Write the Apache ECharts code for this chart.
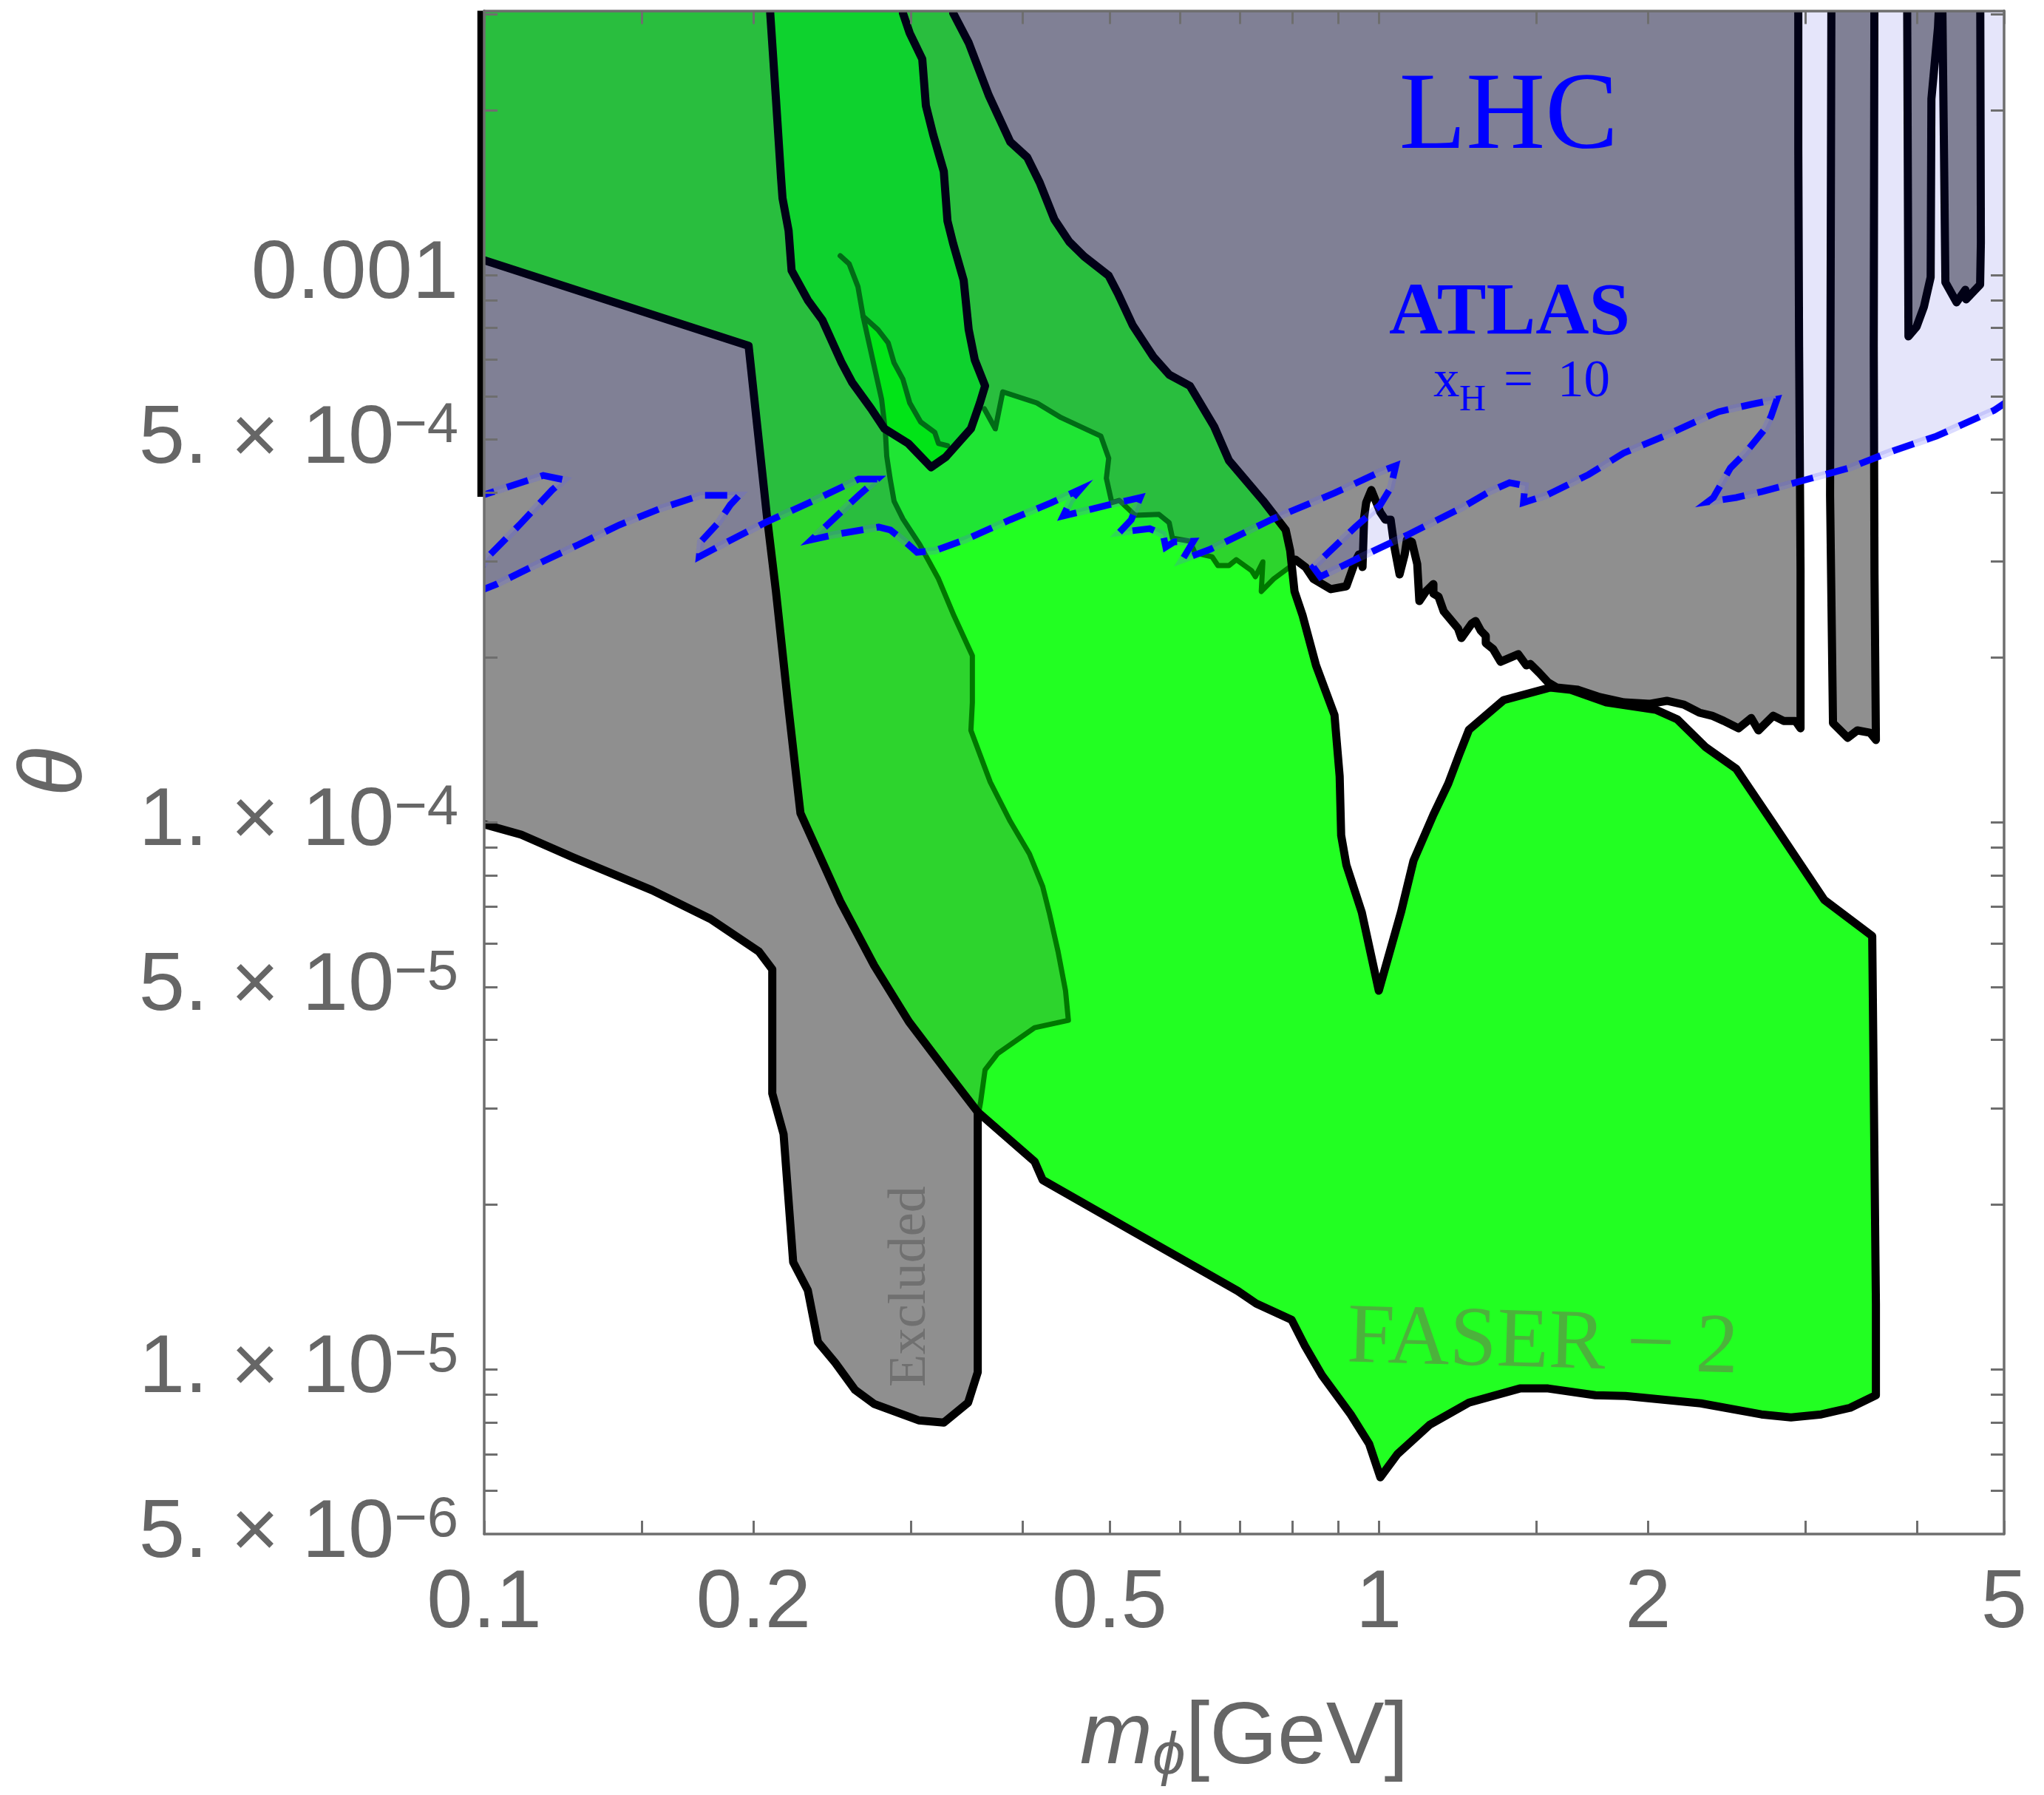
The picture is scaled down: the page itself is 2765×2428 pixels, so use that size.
<!DOCTYPE html>
<html><head><meta charset="utf-8">
<script src="https://cdn.jsdelivr.net/npm/echarts@6/dist/echarts.min.js"></script>
<style>html,body{margin:0;padding:0;background:#fff}#c{width:2765px;height:2428px}</style>
</head><body><div id="c"></div>
<script>
// ---- axis ranges & ticks ----
const X_MIN = 0.1, X_MAX = 5, Y_MIN = 5e-6, Y_MAX = 3.04e-3;
const xLabelValues = [0.1, 0.2, 0.5, 1, 2, 5];
const xTickValues = [0.1, 0.15, 0.2, 0.3, 0.4, 0.5, 0.6, 0.7, 0.8, 0.9, 1, 1.5, 2, 3, 4, 5];
const yLabelValues = [5e-6, 1e-5, 5e-5, 1e-4, 5e-4, 1e-3];
const yTickValues = [6e-6, 7e-6, 8e-6, 9e-6, 1e-5, 2e-5, 3e-5, 4e-5, 5e-5, 6e-5, 7e-5, 8e-5, 9e-5,
  1e-4, 2e-4, 3e-4, 4e-4, 5e-4, 6e-4, 7e-4, 8e-4, 9e-4, 1e-3, 2e-3, 3e-3];

// ---- region boundaries, [m_phi (GeV), theta] ----
const TOPV = 4e-3;
// gray (excluded) region: right edge + jagged lower edge of the upper gray block
const grayHoleEdge = [[2.944,TOPV],[2.944,1.702e-3],[2.950,7.393e-4],[2.961,2.899e-4],[2.961,1.484e-4],
 [2.922,1.531e-4],[2.835,1.531e-4],[2.760,1.565e-4],[2.657,1.471e-4],[2.608,1.550e-4],[2.524,1.484e-4],[2.430,1.531e-4],[2.357,1.565e-4],[2.282,1.585e-4],
 [2.193,1.640e-4],[2.099,1.666e-4],[2.006,1.645e-4],[1.880,1.655e-4],[1.766,1.692e-4],[1.671,1.745e-4],[1.581,1.762e-4],[1.546,1.801e-4],[1.511,1.875e-4],
 [1.477,1.946e-4],[1.462,1.934e-4],[1.432,2.027e-4],[1.368,1.964e-4],[1.342,2.072e-4],[1.317,2.123e-4],[1.317,2.190e-4],[1.300,2.239e-4],[1.283,2.331e-4],
 [1.271,2.309e-4],[1.237,2.170e-4],[1.226,2.260e-4],[1.182,2.427e-4],[1.166,2.584e-4],[1.151,2.616e-4],[1.151,2.723e-4],[1.129,2.640e-4],[1.110,2.535e-4],
 [1.104,2.962e-4],[1.089,3.252e-4],[1.075,3.282e-4],[1.069,3.085e-4],[1.055,2.836e-4],[1.041,3.182e-4],[1.031,3.570e-4],[1.017,3.570e-4],[1.004,3.683e-4],
 [0.981,4.045e-4],[0.968,3.836e-4],[0.963,3.604e-4],[0.959,2.925e-4],[0.950,3.085e-4],[0.941,2.990e-4],[0.920,2.698e-4],[0.884,2.665e-4],[0.845,2.783e-4],
 [0.828,2.925e-4],[0.807,3.018e-4]];
// gray edge seen through the green band (jagged)
const grayJagged = [[0.795,2.925e-4],[0.763,2.783e-4],[0.739,2.640e-4],[0.742,2.990e-4],[0.728,2.809e-4],[0.721,2.880e-4],[0.693,3.018e-4],[0.680,2.944e-4],
 [0.661,2.944e-4],[0.651,3.055e-4],[0.623,3.104e-4],[0.615,3.262e-4],[0.588,3.303e-4],[0.583,3.526e-4],[0.568,3.650e-4],[0.534,3.638e-4],[0.513,3.871e-4],
 [0.503,3.836e-4],[0.496,4.250e-4],[0.499,4.623e-4],[0.489,5.075e-4],[0.4415,5.485e-4],[0.4147,5.836e-4],[0.3799,6.115e-4],[0.3727,5.235e-4],[0.3623,5.693e-4]];
// gray edge seen through the green band (left branch)
const grayBranch = [[0.3344,5.075e-4],[0.3041,5.075e-4],[0.2808,5.187e-4],[0.2818,4.666e-4],[0.2845,4.210e-4],[0.2872,3.859e-4],[0.2938,3.582e-4],
 [0.3069,3.212e-4],[0.3220,2.783e-4],[0.3351,2.382e-4],[0.3513,2.014e-4],[0.3513,1.655e-4],[0.3500,1.471e-4],[0.3679,1.183e-4],[0.3873,1.003e-4],
 [0.4069,8.748e-5],[0.4210,7.627e-5],[0.4281,6.841e-5],[0.4380,5.800e-5],[0.4465,4.920e-5],[0.4498,4.344e-5],[0.4123,4.210e-5],[0.3749,3.776e-5],
 [0.3630,3.526e-5],[0.3589,3.085e-5],[0.3562,2.880e-5]];
// "Excluded" tongue and lower-left edge of the gray region
const grayTongue = [[0.3562,9.877e-6],[0.3475,8.694e-6],[0.3264,7.992e-6],[0.3059,8.068e-6],[0.2729,8.640e-6],[0.2598,9.167e-6],[0.2468,1.028e-5],
 [0.2361,1.122e-5],[0.2300,1.395e-5],[0.2215,1.570e-5],[0.2161,2.690e-5],[0.2099,3.193e-5],[0.2099,5.384e-5],[0.2028,5.800e-5],[0.1790,6.653e-5],
 [0.1540,7.510e-5],[0.1259,8.612e-5],[0.1100,9.484e-5],[0.0994,9.938e-5],[0.098,1.0e-4]];
// gray strips at the right
const grayStrip = [[3.207,TOPV],[3.195,3.956e-4],[3.219,1.517e-4],[3.344,1.426e-4],[3.428,1.471e-4],[3.541,1.457e-4],[3.595,1.413e-4],
 [3.582,2.836e-4],[3.575,7.393e-4],[3.582,TOPV]];
const grayFingers = [[3.894,TOPV],[3.909,7.722e-4],[3.992,8.042e-4],[4.068,8.748e-4],[4.139,9.906e-4],[4.147,2.097e-3],[4.218,2.834e-3],[4.258,TOPV],
 [4.282,1.773e-3],[4.299,9.694e-4],[4.424,8.913e-4],[4.526,9.397e-4],[4.534,9.024e-4],[4.701,9.603e-4],[4.710,1.147e-3],[4.701,TOPV]];

// FASER-2 reach (green band) outline
const faserRightUpper = [[0.3344,TOPV],[0.3344,3.009e-3],[0.3480,2.656e-3],[0.3664,2.130e-3],[0.3873,1.751e-3],[0.4046,1.640e-3],[0.4178,1.475e-3],
 [0.4339,1.263e-3],[0.4508,1.150e-3],[0.4684,1.081e-3],[0.4990,9.968e-4],[0.5109,9.252e-4],[0.5308,8.092e-4],[0.5600,7.079e-4],[0.5832,6.571e-4],
 [0.6150,6.269e-4],[0.6546,5.284e-4],[0.6800,4.580e-4],[0.7421,3.871e-4],[0.7870,3.418e-4]];
const faserRightLower = [[0.7961,3.133e-4],[0.8050,2.640e-4],[0.8222,2.382e-4],[0.8508,1.934e-4],[0.8922,1.570e-4],[0.9042,1.213e-4],[0.9077,9.456e-5],
 [0.9200,8.348e-5],[0.9572,6.841e-5],[1.000,4.920e-5]];
const faserLobe = [[1.0587,6.841e-5],[1.0935,8.505e-5],[1.151,1.032e-4],[1.1958,1.176e-4],[1.2304,1.331e-4],[1.2612,1.475e-4],[1.379,1.671e-4],
 [1.555,1.762e-4],[1.639,1.745e-4],[1.796,1.655e-4],[2.040,1.605e-4],[2.156,1.541e-4],[2.317,1.373e-4],[2.510,1.251e-4],[2.750,1.003e-4],[3.147,7.213e-5],
 [3.561,6.192e-5],[3.595,1.319e-5],[3.595,8.966e-6],[3.364,8.505e-6],[3.123,8.271e-6],[2.889,8.169e-6],[2.677,8.271e-6],[2.291,8.666e-6],[1.887,8.940e-6],
 [1.746,8.966e-6],[1.546,9.225e-6],[1.438,9.225e-6],[1.2612,8.694e-6],[1.140,7.917e-6],[1.0487,6.993e-6],[1.004,6.349e-6]];
const faserLowerV = [[0.9756,7.304e-6],[0.9303,8.271e-6],[0.8639,9.754e-6],[0.8268,1.104e-5],[0.7990,1.232e-5],[0.7294,1.319e-5],[0.6954,1.391e-5],
 [0.5319,1.784e-5],[0.4210,2.218e-5],[0.4123,2.398e-5],[0.3562,2.953e-5]];
const faserLowerLeft = [[0.3301,3.471e-5],[0.2984,4.317e-5],[0.2729,5.467e-5],[0.2500,7.168e-5],[0.2257,1.038e-4],[0.2185,1.655e-4],[0.2119,2.640e-4],
 [0.2071,3.604e-4],[0.1975,7.42e-4],[0.0994,1.067e-3],[0.098,1.08e-3]];
// inner finger
const innerShape = [[0.2088,TOPV],[0.2088,3.009e-3],[0.2119,2.097e-3],[0.2147,1.503e-3],[0.2155,1.382e-3],[0.2189,1.205e-3],[0.2206,1.019e-3],
 [0.2300,8.995e-4],[0.2388,8.271e-4],[0.2510,6.906e-4],[0.2577,6.369e-4],[0.2708,5.693e-4],[0.2802,5.235e-4],[0.2979,4.920e-4],[0.3159,4.452e-4],
 [0.3282,4.652e-4],[0.3500,5.235e-4],[0.3582,5.836e-4],[0.3630,6.269e-4],[0.3535,6.993e-4],[0.3480,7.943e-4],[0.3435,9.784e-4],[0.3344,1.140e-3],
 [0.3295,1.255e-3],[0.3264,1.546e-3],[0.3177,1.801e-3],[0.3117,2.039e-3],[0.3088,2.481e-3],[0.2990,2.766e-3],[0.2938,3.009e-3],[0.2938,TOPV]];
const stripTop = [[0.2500,1.084e-3],[0.2558,1.048e-3],[0.2617,9.515e-4],[0.2652,8.400e-4]];
const stripRight = [[0.2652,8.400e-4],[0.2755,7.943e-4],[0.2829,7.510e-4],[0.2872,6.906e-4],[0.2938,6.449e-4],[0.2990,5.836e-4],[0.3076,5.384e-4],
 [0.3189,5.155e-4],[0.3220,4.920e-4],[0.3295,4.873e-4]];
const stripLeft = [[0.2652,8.400e-4],[0.2688,7.603e-4],[0.2734,6.714e-4],[0.2781,5.929e-4],[0.2808,5.187e-4]];

// ATLAS x_H = 10 boundary (dashed)
const atlasCurve = [[0.0972,3.907e-4],[0.1164,4.302e-4],[0.1228,4.223e-4],[0.1191,4.045e-4],[0.1095,3.493e-4],[0.1010,3.055e-4],[0.0972,2.766e-4],
 [0.0972,2.616e-4],[0.1033,2.723e-4],[0.1147,2.962e-4],[0.1273,3.212e-4],[0.1416,3.493e-4],[0.1573,3.741e-4],[0.1746,3.956e-4],[0.1856,3.956e-4],
 [0.1928,3.956e-4],[0.1884,3.800e-4],[0.1827,3.526e-4],[0.1746,3.252e-4],[0.1739,3.055e-4],[0.1869,3.252e-4],[0.2060,3.526e-4],[0.2309,3.836e-4],
 [0.2622,4.236e-4],[0.2750,4.236e-4],[0.2622,3.956e-4],[0.2322,3.282e-4],[0.2468,3.355e-4],[0.2760,3.461e-4],[0.2845,3.418e-4],[0.2956,3.252e-4],
 [0.3047,3.113e-4],[0.3189,3.133e-4],[0.3448,3.282e-4],[0.3873,3.570e-4],[0.4307,3.836e-4],[0.4638,4.057e-4],[0.4524,3.871e-4],[0.4438,3.626e-4],
 [0.503,3.812e-4],[0.5411,3.919e-4],[0.5288,3.570e-4],[0.513,3.386e-4],[0.5546,3.439e-4],[0.5740,3.355e-4],[0.5779,3.182e-4],[0.5905,3.252e-4],
 [0.6206,3.262e-4],[0.6032,3.018e-4],[0.6480,3.152e-4],[0.7577,3.570e-4],[0.8922,3.994e-4],[1.004,4.370e-4],[1.0447,4.481e-4],[1.031,4.082e-4],
 [1.004,3.800e-4],[0.941,3.461e-4],[0.845,2.925e-4],[0.8604,2.809e-4],[0.968,3.085e-4],[1.079,3.355e-4],[1.237,3.752e-4],[1.330,4.019e-4],
 [1.400,4.172e-4],[1.457,4.120e-4],[1.451,3.836e-4],[1.539,3.956e-4],[1.716,4.317e-4],[1.877,4.724e-4],[2.084,5.075e-4],[2.313,5.485e-4],
 [2.398,5.623e-4],[2.608,5.800e-4],[2.787,5.929e-4],[2.745,5.519e-4],[2.703,5.235e-4],[2.568,4.724e-4],[2.472,4.439e-4],[2.366,3.919e-4],
 [2.331,3.847e-4],[2.510,3.919e-4],[2.683,4.019e-4],[2.979,4.210e-4],[3.357,4.439e-4],[3.756,4.769e-4],[4.202,5.075e-4],[4.874,5.658e-4],
 [5.044,5.874e-4],[5.269,6.115e-4]];
const leftEdgeBlack = [[0.0991,Y_MAX],[0.0991,3.93e-4]];

// text anchors [m, theta]
const labels = {
  lhc: [1.397, 1.928e-3], atlas: [1.40, 8.48e-4],
  xh_x: [1.151, 6.37e-4], xh_H: [1.230, 5.89e-4], xh_eq: [1.379, 6.37e-4], xh_10: [1.584, 6.37e-4],
  faser: [1.525, 1.11e-5], excluded: [0.300, 1.417e-5]
};

// ---- colours ----
const C_GRAY = '#8f8f8f', C_MED = '#2dd42d', C_BRIGHT = '#22ff22', C_INNER = '#0fea1b', C_STRIP = '#00fe02',
      C_DG = '#007800', C_BLACK = '#000000', C_ATLAS = 'rgba(10,10,207,0.106)';

const rev = a => a.slice().reverse();
const polyGray = [[0.098,TOPV], ...grayHoleEdge, ...grayJagged, ...grayBranch, ...grayTongue];
const polyFaser = [[0.098,TOPV], ...faserRightUpper, ...faserRightLower, ...faserLobe, ...faserLowerV, ...faserLowerLeft];
const polyBright = [...grayBranch, ...rev(faserLowerV), ...rev(faserLobe), ...rev(faserRightLower), ...grayJagged];
const polyStrip = [...stripRight, [0.3282,4.652e-4],[0.3159,4.452e-4],[0.2979,4.920e-4], ...rev(stripLeft)];
const polyAtlas = [...atlasCurve, [5.5,TOPV],[0.095,TOPV]];
const lineFaser = [...faserRightUpper, ...faserRightLower, ...faserLobe, ...faserLowerV, ...faserLowerLeft];
const lineGrayLow = [[0.3562,2.953e-5],[0.3562,2.880e-5], ...grayTongue];
const lineDG1 = [...stripTop, ...stripRight.slice(1)];
const lineDG2 = [...stripLeft, ...grayBranch.slice(3)];

const SERIF = "'Liberation Serif','Times New Roman',serif";
const SANS = "'Liberation Sans',Arial,'DejaVu Sans',sans-serif";

function mainRender(params, api) {
  const P = arr => arr.map(p => api.coord(p));
  const poly = (pts, fill) => ({type:'polygon', silent:true, shape:{points:P(pts)}, style:{fill:fill, stroke:null}});
  const line = (pts, color, w, closed) => ({type: closed ? 'polygon' : 'polyline', silent:true, shape:{points:P(pts)},
      style:{fill:null, stroke:color, lineWidth:w, lineJoin:'round', lineCap:'round'}});
  const ch = [
    poly(polyGray, C_GRAY),
    poly(polyFaser, C_MED),
    poly(polyBright, C_BRIGHT),
    poly(innerShape, C_INNER),
    poly(polyStrip, C_STRIP),
    poly(grayStrip, C_GRAY),
    poly(grayFingers, C_GRAY),
    line(lineDG1, C_DG, 7), line(lineDG2, C_DG, 7), line(grayJagged, C_DG, 7),
    line(lineFaser, C_BLACK, 11), line(innerShape, C_BLACK, 11), line(lineGrayLow, C_BLACK, 11),
    line(grayHoleEdge, C_BLACK, 11), line(grayStrip, C_BLACK, 11, true), line(grayFingers, C_BLACK, 11, true),
    {type:'polygon', silent:true, shape:{points:P(polyAtlas)}, style:{fill:C_ATLAS, stroke:'rgba(90,90,255,0.22)', lineWidth:10}},
    {type:'polyline', silent:true, shape:{points:P(atlasCurve)}, style:{fill:null, stroke:'#0000ff', lineWidth:9, lineDash:[30,18], lineCap:'butt', lineJoin:'miter'}}
  ];
  return {type:'group', children: ch};
}

function textRender(params, api) {
  const c = p => api.coord(p);
  const t = (p, text, o) => { const q = c(p); return {type:'text', silent:true, x:q[0], y:q[1], rotation:o.rot||0,
      style:Object.assign({text:text, align:'center', verticalAlign:'middle'}, o.style)}; };
  const e = c(leftEdgeBlack[0]), f = c(leftEdgeBlack[1]);
  return {type:'group', children:[
    {type:'line', silent:true, shape:{x1:e[0], y1:e[1], x2:f[0], y2:f[1]}, style:{stroke:C_BLACK, lineWidth:9}},
    t(labels.lhc, 'LHC', {style:{fill:'#0000ff', fontSize:148, fontFamily:SERIF}}),
    t(labels.atlas, 'ATLAS', {style:{fill:'#0000ff', fontSize:100, fontWeight:'bold', fontFamily:SERIF}}),
    t(labels.xh_x, 'x', {style:{fill:'#0000ff', fontSize:71, fontFamily:SERIF, align:'left'}}),
    t(labels.xh_H, 'H', {style:{fill:'#0000ff', fontSize:50, fontFamily:SERIF, align:'left'}}),
    t(labels.xh_eq, '=', {style:{fill:'#0000ff', fontSize:71, fontFamily:SERIF, align:'left'}}),
    t(labels.xh_10, '10', {style:{fill:'#0000ff', fontSize:71, fontFamily:SERIF, align:'left'}}),
    t(labels.faser, 'FASER − 2', {rot:-0.028, style:{fill:'#4cb23c', fontSize:115, fontFamily:SERIF}}),
    t(labels.excluded, 'Excluded', {rot:Math.PI/2, style:{fill:'#707070', fontSize:72, fontFamily:SERIF}})
  ]};
}

function fmtY(v) {
  const e = Math.floor(Math.log10(v) + 1e-6);
  const mt = Math.round(v / Math.pow(10, e));
  if (e === -3 && mt === 1) return '0.001';
  return '{a|' + mt + '. × 10}{s|−' + (-e) + '}';
}
const AX_COLOR = '#6e6e6e', LBL_COLOR = '#666666';
const tickStyle = {show:true, inside:true, length:18, lineStyle:{color:AX_COLOR, width:3}};
const lineStyle = {show:true, lineStyle:{color:AX_COLOR, width:3.5}};

const chart = echarts.init(document.getElementById('c'), null, {renderer:'canvas'});
chart.setOption({
  animation:false,
  backgroundColor:'#ffffff',
  grid:{left:655, right:54, top:14.5, bottom:353, containLabel:false},
  xAxis:[
    {type:'log', min:X_MIN, max:X_MAX, position:'bottom', z:10, axisLine:lineStyle,
     axisTick:Object.assign({customValues:xTickValues}, tickStyle), splitLine:{show:false}, minorTick:{show:false},
     axisLabel:{customValues:xLabelValues, showMinLabel:true, showMaxLabel:true, margin:39, color:LBL_COLOR, fontSize:112, fontFamily:SANS,
       formatter:v => String(+(+v).toPrecision(3))},
     name:'{m|m}{p|ϕ}{g|[GeV]}', nameLocation:'middle', nameGap:212,
     nameTextStyle:{color:LBL_COLOR, rich:{
       m:{fontSize:118, fontStyle:'italic', fontFamily:SANS, color:LBL_COLOR, lineHeight:130},
       p:{fontSize:80, fontStyle:'italic', fontFamily:SANS, color:LBL_COLOR, lineHeight:50, verticalAlign:'bottom'},
       g:{fontSize:118, fontFamily:SANS, color:LBL_COLOR, lineHeight:130}}}},
    {type:'log', min:X_MIN, max:X_MAX, position:'top', z:10, axisLine:lineStyle,
     axisTick:Object.assign({customValues:xTickValues}, tickStyle), axisLabel:{show:false}, splitLine:{show:false}}
  ],
  yAxis:[
    {type:'log', min:Y_MIN, max:Y_MAX, position:'left', z:10, axisLine:lineStyle,
     axisTick:Object.assign({customValues:yTickValues}, tickStyle), splitLine:{show:false}, minorTick:{show:false},
     axisLabel:{customValues:yLabelValues, showMinLabel:true, showMaxLabel:true, margin:35, color:LBL_COLOR, fontSize:112, fontFamily:SANS,
       formatter:fmtY,
       rich:{a:{fontSize:112, fontFamily:SANS, color:LBL_COLOR, lineHeight:112},
             s:{fontSize:76, fontFamily:SANS, color:LBL_COLOR, lineHeight:30, verticalAlign:'top'}}},
     name:'θ', nameLocation:'middle', nameGap:518, nameRotate:90,
     nameTextStyle:{color:LBL_COLOR, fontSize:120, fontStyle:'italic', fontFamily:SANS}},
    {type:'log', min:Y_MIN, max:Y_MAX, position:'right', z:10, axisLine:lineStyle,
     axisTick:Object.assign({customValues:yTickValues}, tickStyle), axisLabel:{show:false}, splitLine:{show:false}}
  ],
  series:[
    {type:'custom', clip:true, z:2, xAxisIndex:0, yAxisIndex:0, data:[[1,1e-4]], encode:{x:0,y:1}, renderItem:mainRender, silent:true},
    {type:'custom', clip:false, z:3, xAxisIndex:0, yAxisIndex:0, data:[[1,1e-4]], encode:{x:0,y:1}, renderItem:textRender, silent:true}
  ]
});
</script></body></html>
